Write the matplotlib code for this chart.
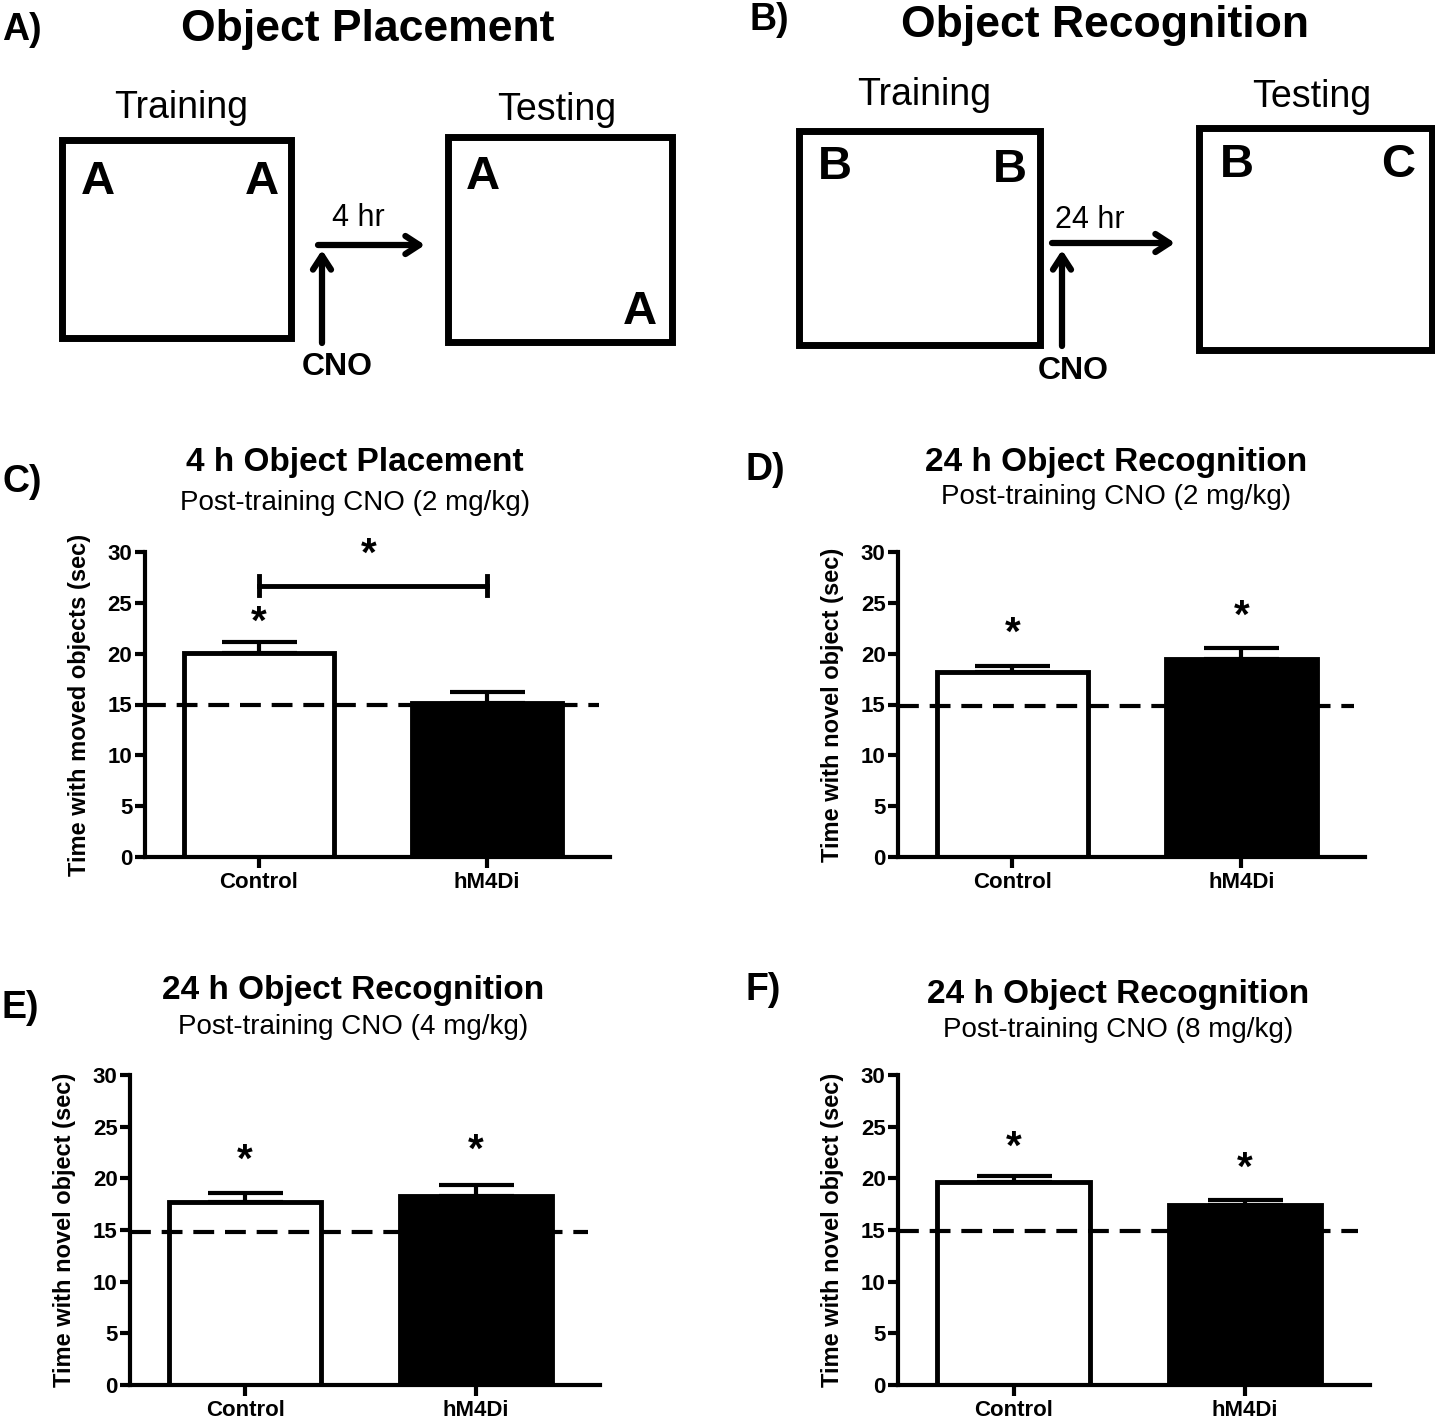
import matplotlib
matplotlib.use('Agg')
import matplotlib.pyplot as plt
from matplotlib.patches import Rectangle

plt.rcParams['font.family'] = ['Liberation Sans', 'DejaVu Sans']

W, H = 1435, 1419

groups = ['Control', 'hM4Di']
c_means = [20.1, 15.1]
c_sem = [1.0, 1.1]
d_means = [18.2, 19.5]
d_sem = [0.6, 1.1]
e_means = [17.7, 18.3]
e_sem = [0.9, 1.1]
f_means = [19.6, 17.4]
f_sem = [0.6, 0.55]
chance = [15.0, 14.85, 14.8, 14.9]
stars_c = [23.0, None]
stars_d = [22.0, 23.6]
stars_e = [21.7, 22.7]
stars_f = [23.0, 20.9]
yticks = [0, 5, 10, 15, 20, 25, 30]


def rect(l, r, top, bottom):
    return [l / W, 1 - bottom / H, (r - l) / W, (bottom - top) / H]


fig = plt.figure(figsize=(W / 100, H / 100), dpi=100)

# schematic panels drawn in pixel coords
bg = fig.add_axes([0, 0, 1, 1])
bg.set_xlim(0, W)
bg.set_ylim(H, 0)
bg.axis('off')


def box(x0, x1, y0, y1):
    bg.add_patch(Rectangle((x0, y0), x1 - x0, y1 - y0, fill=False, lw=5, ec='black'))


def arrow(x0, y0, x1, y1):
    bg.annotate('', xy=(x1, y1), xytext=(x0, y0),
                arrowprops=dict(arrowstyle='->,head_length=1.0,head_width=0.65', lw=4.5, color='black',
                                shrinkA=0, shrinkB=0))


bg.text(2, 30, 'A)', fontsize=27, fontweight='bold', va='center', ha='left')
bg.text(368, 30, 'Object Placement', fontsize=32, fontweight='bold', va='center', ha='center')
bg.text(181, 108, 'Training', fontsize=27, va='center', ha='center')
bg.text(557, 110, 'Testing', fontsize=27, va='center', ha='center')
box(62, 291, 140, 338)
box(448, 672, 137, 342)
for x, y in [(98, 182), (262, 182), (483, 177), (640, 312)]:
    bg.text(x, y, 'A', fontsize=34, fontweight='bold', va='center', ha='center')
arrow(318, 245, 425, 245)
arrow(322, 343, 322, 250)
bg.text(358, 218, '4 hr', fontsize=22, va='center', ha='center')
bg.text(337, 367, 'CNO', fontsize=23, fontweight='bold', va='center', ha='center')

bg.text(750, 20, 'B)', fontsize=27, fontweight='bold', va='center', ha='left')
bg.text(1105, 25, 'Object Recognition', fontsize=32, fontweight='bold', va='center', ha='center')
bg.text(924, 95, 'Training', fontsize=27, va='center', ha='center')
bg.text(1312, 97, 'Testing', fontsize=27, va='center', ha='center')
box(799, 1040, 131, 345)
box(1199, 1432, 128, 350)
for x, y, s in [(835, 167, 'B'), (1010, 170, 'B'), (1237, 165, 'B'), (1398, 165, 'C')]:
    bg.text(x, y, s, fontsize=34, fontweight='bold', va='center', ha='center')
arrow(1052, 243, 1175, 243)
arrow(1062, 346, 1062, 250)
bg.text(1090, 220, '24 hr', fontsize=22, va='center', ha='center')
bg.text(1073, 371, 'CNO', fontsize=23, fontweight='bold', va='center', ha='center')


def bar_panel(box_px, means, sem, stars, line_y, ylabel, title, subtitle, letter, title_px, letter_px):
    ax = fig.add_axes(rect(*box_px))
    x = [0, 1]
    ax.bar(x, means, width=0.66, color=['white', 'black'], edgecolor='black', linewidth=3.5, zorder=2)
    ax.errorbar(x, means, yerr=[[0, 0], sem], fmt='none', ecolor='black', elinewidth=3,
                capsize=27, capthick=3, zorder=1)
    ax.plot([-0.5, 1.49], [line_y, line_y], ls=(0, (5, 2.6)), color='black', lw=3, zorder=3, clip_on=False)
    for xi, s in zip(x, stars):
        if s is not None:
            ax.text(xi, s, '*', fontsize=29, fontweight='bold', ha='center', va='center')
    ax.set_xlim(-0.5, 1.54)
    ax.set_ylim(0, 30)
    ax.set_yticks(yticks)
    ax.set_xticks(x)
    ax.set_xticklabels(groups, fontsize=16, fontweight='bold')
    for lab in ax.get_yticklabels():
        lab.set_fontsize(16)
        lab.set_fontweight('bold')
    ax.tick_params(axis='y', direction='out', length=7, width=3, pad=2)
    ax.tick_params(axis='x', direction='out', length=8, width=3, pad=3)
    for s in ['top', 'right']:
        ax.spines[s].set_visible(False)
    for s in ['left', 'bottom']:
        ax.spines[s].set_linewidth(3)
    ax.set_ylabel(ylabel, fontsize=17, fontweight='bold', labelpad=12)
    ax.patch.set_alpha(0)
    tx, ty, sy = title_px
    bg.text(tx, ty, title, fontsize=24, fontweight='bold', ha='center', va='center')
    bg.text(tx, sy, subtitle, fontsize=20, ha='center', va='center')
    bg.text(letter_px[0], letter_px[1], letter, fontsize=27, fontweight='bold', ha='left', va='center')
    return ax


ax_c = bar_panel((145, 610, 552, 857), c_means, c_sem, stars_c, chance[0],
                 'Time with moved objects (sec)', '4 h Object Placement',
                 'Post-training CNO (2 mg/kg)', 'C)', (355, 462, 503), (2, 482))
# significance bracket between groups
ax_c.plot([0, 1], [26.7, 26.7], color='black', lw=3.5)
ax_c.plot([0, 0], [25.8, 27.6], color='black', lw=3.5)
ax_c.plot([1, 1], [25.8, 27.6], color='black', lw=3.5)
ax_c.text(0.48, 29.7, '*', fontsize=29, fontweight='bold', ha='center', va='center')

bar_panel((898, 1365, 552, 857), d_means, d_sem, stars_d, chance[1],
          'Time with novel object (sec)', '24 h Object Recognition',
          'Post-training CNO (2 mg/kg)', 'D)', (1116, 462, 497), (746, 470))
bar_panel((130, 600, 1075, 1385), e_means, e_sem, stars_e, chance[2],
          'Time with novel object (sec)', '24 h Object Recognition',
          'Post-training CNO (4 mg/kg)', 'E)', (353, 990, 1027), (2, 1008))
bar_panel((898, 1370, 1075, 1385), f_means, f_sem, stars_f, chance[3],
          'Time with novel object (sec)', '24 h Object Recognition',
          'Post-training CNO (8 mg/kg)', 'F)', (1118, 995, 1030), (746, 990))

fig.savefig('out.png', dpi=100)
